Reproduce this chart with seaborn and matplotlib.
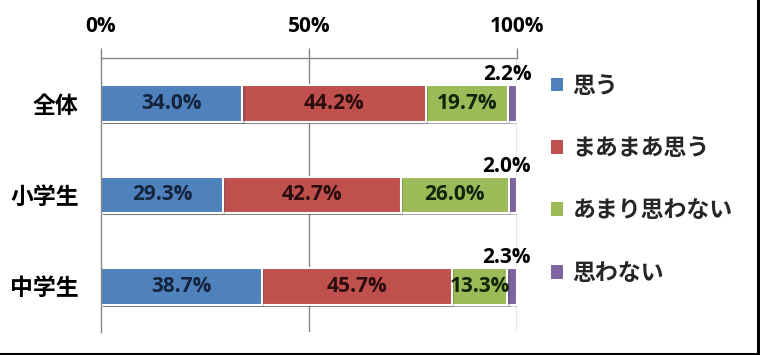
import matplotlib
matplotlib.use("Agg")
import matplotlib.pyplot as plt
import seaborn as sns
import pandas as pd
import numpy as np
from matplotlib.patches import Patch
from matplotlib.lines import Line2D
import matplotlib.patheffects as pe

categories = ["全体", "小学生", "中学生"]
series_names = ["思う", "まあまあ思う", "あまり思わない", "思わない"]
omou = [34.0, 29.3, 38.7]
maamaa = [44.2, 42.7, 45.7]
amari = [19.7, 26.0, 13.3]
omowanai = [2.2, 2.0, 2.3]
tick_values = [0, 50, 100]
tick_labels = ["0%", "50%", "100%"]

colors = ["#4F81BD", "#C0504D", "#9BBB59", "#8064A2"]
text_colors = ["#14243d", "#2a0d0c", "#14240a", "#000000"]

sns.set_theme(style="white")
FONT = ["Open Sans", "Noto Sans CJK JP", "DejaVu Sans"]
JFONT = ["Noto Sans CJK JP", "DejaVu Sans"]
plt.rcParams["font.family"] = FONT

series = [omou, maamaa, amari, omowanai]
cum = np.cumsum(np.array(series), axis=0)

fig = plt.figure(figsize=(7.6, 3.55), dpi=100)
ax = fig.add_axes([101/760, 1-332/355, (517-101)/760, (332-58)/355])

shadow = [pe.SimplePatchShadow(offset=(1.5, -1.5), alpha=0.25), pe.Normal()]
# draw cumulative bars from last to first so segments stack visually
for i in range(len(series)-1, -1, -1):
    df = pd.DataFrame({"cat": categories, "val": cum[i]})
    sns.barplot(data=df, x="val", y="cat", orient="h", color=colors[i],
                width=0.4, edgecolor="white", linewidth=1.5, ax=ax,
                saturation=1, errorbar=None)
for p in ax.patches:
    p.set_path_effects(shadow)

# labels
for j in range(len(categories)):
    for i in range(3):
        start = cum[i][j] - series[i][j]
        cx = start + series[i][j] / 2
        ax.text(cx, j, f"{series[i][j]:.1f}%", ha="center", va="center",
                fontsize=15, fontweight="bold", color=text_colors[i], family=FONT)
    ax.text(cum[3][j] - 2.5, j - 0.20, f"{omowanai[j]:.1f}%", ha="center",
            va="bottom", fontsize=15, fontweight="bold", color="black", family=FONT)

ax.set_xlim(0, 100)
ax.set_ylim(2.5, -0.5)
ax.xaxis.tick_top()
ax.set_xticks(tick_values)
ax.set_xticklabels(tick_labels, fontsize=15, fontweight="bold", family=FONT)
ax.set_xlabel("")
ax.set_ylabel("")
ax.set_yticks([0, 1, 2])
ax.set_yticklabels(categories, fontsize=16.5, fontweight="bold", family=JFONT)
ax.tick_params(axis="x", which="major", direction="out", length=7, width=1,
               color="#868686", pad=8, labelcolor="black")
ax.tick_params(axis="y", which="major", length=0, pad=16, labelcolor="black")
# minor ticks at category boundaries on y axis
ax.set_yticks([-0.5, 0.5, 1.5, 2.5], minor=True)
ax.tick_params(axis="y", which="minor", direction="out", length=7, width=1, color="#868686")

for side in ["right", "bottom"]:
    ax.spines[side].set_visible(False)
for side in ["top", "left"]:
    ax.spines[side].set_color("#868686")
    ax.spines[side].set_linewidth(1)
ax.set_axisbelow(True)
for xv in [50, 100]:
    ax.axvline(xv, color="#868686", linewidth=1, zorder=0)

handles = [Patch(facecolor=c, edgecolor="none") for c in colors]
leg = fig.legend(handles, series_names, loc="upper left",
                 bbox_to_anchor=(530/760, 1-54/355), frameon=False,
                 prop={"family": JFONT, "size": 16.5, "weight": "bold"},
                 handlelength=0.55, handleheight=0.55, handletextpad=0.4,
                 labelspacing=1.72)

# outer border on right and bottom
fig.add_artist(Line2D([0, 1], [1/355, 1/355], transform=fig.transFigure, color="black", linewidth=2.2))
fig.add_artist(Line2D([1-2/760, 1-2/760], [0, 1], transform=fig.transFigure, color="black", linewidth=2.2))

fig.savefig("out.png", dpi=100)
